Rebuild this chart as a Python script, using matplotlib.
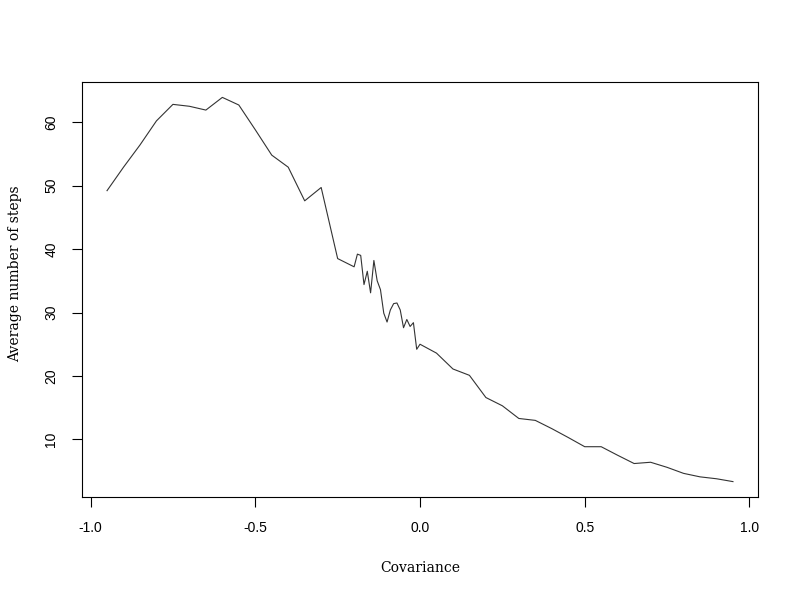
import numpy as np
import matplotlib
matplotlib.use("Agg")
import matplotlib.pyplot as plt

# covariance values (coarse grid, then a fine grid between -0.2 and 0)
cov = [-0.95, -0.90, -0.85, -0.80, -0.75, -0.70, -0.65, -0.60, -0.55, -0.50,
       -0.45, -0.40, -0.35, -0.30, -0.25,
       -0.20, -0.19, -0.18, -0.17, -0.16, -0.15, -0.14, -0.13, -0.12, -0.11,
       -0.10, -0.09, -0.08, -0.07, -0.06, -0.05, -0.04, -0.03, -0.02, -0.01,
       0.00, 0.05, 0.10, 0.15, 0.20, 0.25, 0.30, 0.35, 0.40, 0.45,
       0.50, 0.55, 0.60, 0.65, 0.70, 0.75, 0.80, 0.85, 0.90, 0.95]

steps = [49.2, 52.9, 56.4, 60.2, 62.8, 62.5, 61.9, 63.9, 62.7, 58.8,
         54.8, 52.9, 47.6, 49.7, 38.5,
         37.2, 39.2, 39.0, 34.4, 36.5, 33.1, 38.2, 35.0, 33.6, 29.9,
         28.5, 30.4, 31.4, 31.5, 30.4, 27.6, 28.9, 27.8, 28.4, 24.2,
         25.0, 23.6, 21.1, 20.1, 16.6, 15.3, 13.3, 13.0, 11.7, 10.3,
         8.85, 8.85, 7.5, 6.2, 6.4, 5.6, 4.65, 4.1, 3.8, 3.35]

xticks = [-1.0, -0.5, 0.0, 0.5, 1.0]
xtick_labels = ["-1.0", "-0.5", "0.0", "0.5", "1.0"]
yticks = [10, 20, 30, 40, 50, 60]

fig = plt.figure(figsize=(8, 6), dpi=100)
ax = fig.add_axes([0.1025, 0.1717, 0.845, 0.6916])

ax.plot(cov, steps, color="#333333", linewidth=0.8)

# R-style 4% padding
xr = max(cov) - min(cov)
yr = max(steps) - min(steps)
ax.set_xlim(min(cov) - 0.04 * xr, max(cov) + 0.04 * xr)
ax.set_ylim(min(steps) - 0.04 * yr, max(steps) + 0.04 * yr)

ax.set_xticks(xticks)
ax.set_xticklabels(xtick_labels, fontfamily="Liberation Sans", fontsize=10)
ax.set_yticks(yticks)
ax.set_yticklabels([str(v) for v in yticks], fontfamily="Liberation Sans",
                   fontsize=10, rotation=90, va="center")
ax.tick_params(direction="out", length=7, width=0.8, pad=10, color="black")

for s in ax.spines.values():
    s.set_linewidth(0.8)

ax.set_xlabel("Covariance", fontfamily="DejaVu Serif", fontsize=10, labelpad=19)
ax.set_ylabel("Average number of steps", fontfamily="DejaVu Serif", fontsize=10)
ax.yaxis.set_label_coords(-0.088, 0.537)

fig.savefig("out.png", dpi=100)
